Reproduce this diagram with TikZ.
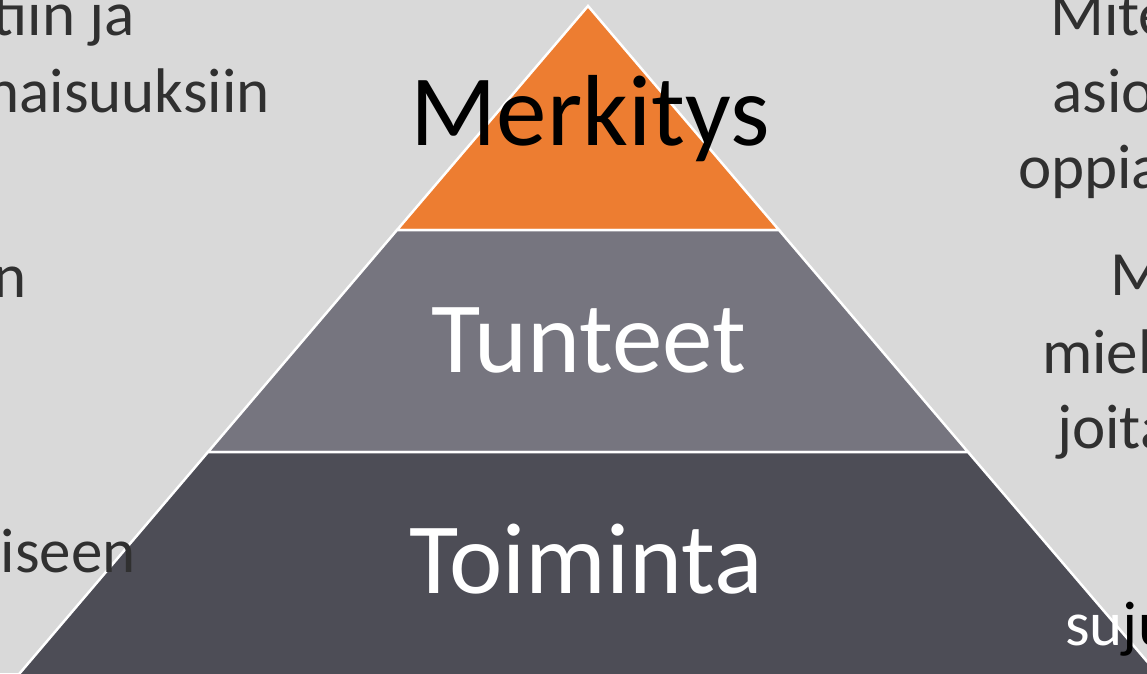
\documentclass[tikz,border=0pt]{standalone}
\usepackage{fontspec}
\setmainfont{Carlito}
\usepackage{xcolor}
\usepackage{tikz}
\usetikzlibrary{positioning}
\definecolor{slidebg}{HTML}{D9D9D9}
\definecolor{toporange}{HTML}{ED7D31}
\definecolor{midgray}{HTML}{76757F}
\definecolor{basegray}{HTML}{4D4D56}
\definecolor{notegray}{HTML}{303030}

\begin{document}
\begin{tikzpicture}[x=1pt,y=-1pt,
    tier/.style={draw=white,line width=2.5pt,line join=miter},
    tierlabel/.style={font=\fontsize{101}{115}\selectfont,anchor=base,inner sep=0pt},
    sidenote/.style={font=\fontsize{63}{77}\selectfont,text=notegray,inner sep=0pt}]
        \useasboundingbox (0,0) rectangle (1147,673);
        \fill[slidebg] (0,0) rectangle (1147,673);
        \clip (0,0) rectangle (1147,673);
        % pyramid tiers
        \draw[tier,fill=toporange] (588,6) -- (779,230) -- (397,230) -- cycle;
        \draw[tier,fill=midgray] (397,230) -- (779,230) -- (968,452) -- (208,452) -- cycle;
        \draw[tier,fill=basegray] (208,452) -- (968,452) -- (1180,700) -- (-3,700) -- cycle;
        \node[tierlabel,text=black] (merkitys) at (590,145) {Merkitys};
        \node[tierlabel,text=white] (tunteet) at (589,372) {Tunteet};
        \node[tierlabel,text=white] (toiminta) at (586,593) {Toiminta};
        % side notes, cut by the frame
        \node[sidenote,anchor=base east] (leftone) at (135,35) {tiin ja};
        \node[sidenote,anchor=base east] (lefttwo) at (270,112) {naisuuksiin};
        \node[sidenote,anchor=base east] (leftthree) at (27,297) {n};
        \node[sidenote,anchor=base east] (leftfour) at (136,572) {iseen};
        \node[sidenote,anchor=base west] (rightone) at (1050,35) {Mite};
        \node[sidenote,anchor=base west] (righttwo) at (1052,112) {asio};
        \node[sidenote,anchor=base west] (rightthree) at (1018,188) {oppia};
        \node[sidenote,anchor=base west] (rightfour) at (1110,295) {M};
        \node[sidenote,anchor=base west] (rightfive) at (1042,373) {miel};
        \node[sidenote,anchor=base west] (rightsix) at (1057,448) {joita};
        \node[sidenote,anchor=base west,text=black] (rightseven) at (1065,645) {\textcolor{white}{su}ju};
      \end{tikzpicture}
\end{document}
